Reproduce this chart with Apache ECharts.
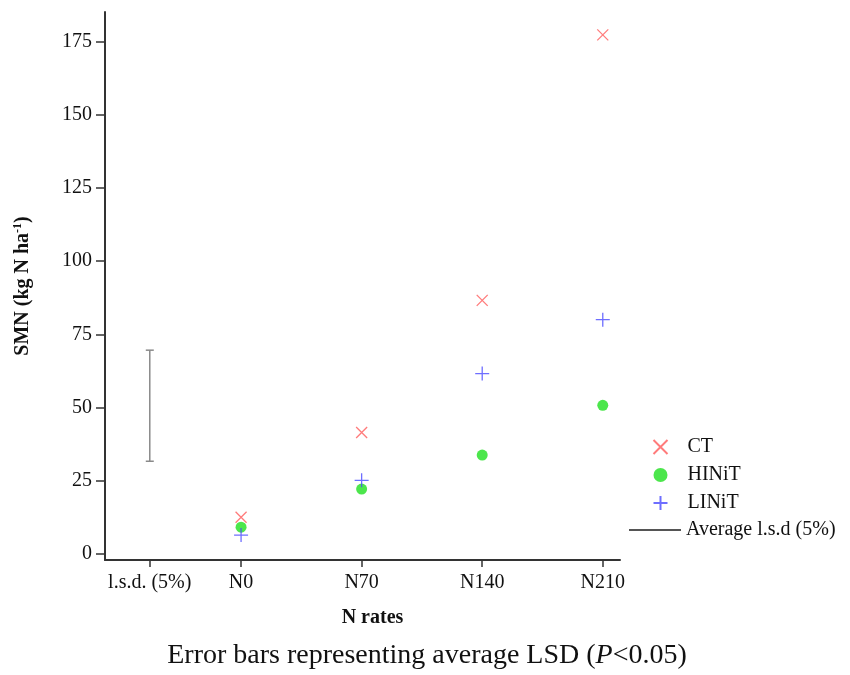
<!DOCTYPE html>
<html>
<head>
<meta charset="utf-8">
<script src="https://cdn.jsdelivr.net/npm/echarts@6/dist/echarts.min.js"></script>
<style>
  html, body { margin: 0; padding: 0; background: #fff; }
  #chart { width: 850px; height: 675px; }
</style>
</head>
<body>
<div id="chart"></div>
<script>
// N rates (x) and SMN values
var nRates = [0, 70, 140, 210];
var rateLabels = ['N0', 'N70', 'N140', 'N210'];
var ctVals = [12.6, 41.5, 86.6, 177.2];
var hinitVals = [9.2, 22.2, 33.8, 50.8];
var linitVals = [6.5, 25.2, 61.6, 80.0];
// average l.s.d. bar, drawn left of N0
var lsdLabel = 'l.s.d. (5%)';
var lsdPos = -53;
var lsdLow = 31.7;
var lsdHigh = 69.6;
var yTicks = [0, 25, 50, 75, 100, 125, 150, 175];

var serif = 'Liberation Serif';
var axisCol = '#333';

function pairs(xs, ys) {
    var out = [];
    for (var i = 0; i < xs.length; i++) out.push([xs[i], ys[i]]);
    return out;
}

var chart = echarts.init(document.getElementById('chart'));

var xTickVals = [lsdPos].concat(nRates);
var xTickNames = [lsdLabel].concat(rateLabels);

var option = {
    animation: false,
    grid: { left: 105, right: 230, top: 12, bottom: 115, containLabel: false },
    legend: [{
        orient: 'vertical',
        left: 646, top: 432,
        itemWidth: 14, itemHeight: 14, itemGap: 8,
        textStyle: { fontFamily: serif, fontSize: 20, color: '#111', padding: [0, 0, 0, 15] },
        data: ['CT', 'HINiT', 'LINiT']
    }, {
        left: 624, top: 515,
        itemWidth: 52, itemHeight: 2,
        textStyle: { fontFamily: serif, fontSize: 20, color: '#111' },
        data: [{ name: 'Average l.s.d (5%)', icon: 'rect', itemStyle: { color: '#555' } }]
    }],
    xAxis: {
        type: 'value',
        min: -79, max: 220,
        name: 'N rates',
        nameLocation: 'middle',
        nameGap: 48,
        nameTextStyle: { fontFamily: serif, fontSize: 20, fontWeight: 'bold', color: '#111', padding: [0, 0, 0, 20] },
        axisLine: { onZero: false, lineStyle: { color: axisCol, width: 2 } },
        axisTick: { show: true, length: 7, lineStyle: { color: axisCol, width: 1.5 }, customValues: xTickVals },
        axisLabel: {
            fontFamily: serif, fontSize: 20, color: '#111', margin: 13,
            customValues: xTickVals,
            formatter: function (v) {
                var i = xTickVals.indexOf(v);
                return i >= 0 ? xTickNames[i] : '';
            }
        },
        splitLine: { show: false }
    },
    yAxis: {
        type: 'value',
        min: -2, max: 185,
        name: '{a|SMN (kg N ha}{s|-1}{a|)}',
        nameLocation: 'middle',
        nameGap: 71,
        nameTextStyle: {
            rich: {
                a: { fontFamily: serif, fontSize: 20, fontWeight: 'bold', color: '#111', lineHeight: 22 },
                s: { fontFamily: serif, fontSize: 12, fontWeight: 'bold', color: '#111', verticalAlign: 'top', lineHeight: 12 }
            }
        },
        axisLine: { show: true, onZero: false, lineStyle: { color: axisCol, width: 2 } },
        axisTick: { show: true, length: 9, lineStyle: { color: axisCol, width: 1.5 }, customValues: yTicks },
        axisLabel: { fontFamily: serif, fontSize: 20, color: '#111', margin: 13, customValues: yTicks },
        splitLine: { show: false }
    },
    series: [{
        name: 'CT',
        type: 'scatter',
        symbol: 'path://M0,0 L10,10 M10,0 L0,10',
        symbolSize: 11,
        itemStyle: { color: 'none', borderColor: '#ff5a5a', borderWidth: 1.3 },
        data: pairs(nRates, ctVals)
    }, {
        name: 'HINiT',
        type: 'scatter',
        symbol: 'circle',
        symbolSize: 11,
        itemStyle: { color: '#1fe01f' },
        data: pairs(nRates, hinitVals)
    }, {
        name: 'LINiT',
        type: 'scatter',
        symbol: 'path://M5,0 L5,10 M0,5 L10,5',
        symbolSize: 14,
        itemStyle: { color: 'none', borderColor: '#4a4aff', borderWidth: 1.3 },
        data: pairs(nRates, linitVals)
    }, {
        name: 'Average l.s.d (5%)',
        type: 'custom',
        itemStyle: { color: '#555' },
        encode: { x: 0, y: [1, 2] },
        data: [[lsdPos, lsdLow, lsdHigh]],
        renderItem: function (params, api) {
            var lo = api.coord([api.value(0), api.value(1)]);
            var hi = api.coord([api.value(0), api.value(2)]);
            var cap = 4;
            var st = { stroke: '#8a8a8a', lineWidth: 1.5 };
            return {
                type: 'group',
                children: [
                    { type: 'line', shape: { x1: lo[0], y1: lo[1], x2: hi[0], y2: hi[1] }, style: st },
                    { type: 'line', shape: { x1: lo[0] - cap, y1: lo[1], x2: lo[0] + cap, y2: lo[1] }, style: st },
                    { type: 'line', shape: { x1: hi[0] - cap, y1: hi[1], x2: hi[0] + cap, y2: hi[1] }, style: st }
                ]
            };
        }
    }],
    graphic: [{
        type: 'text',
        x: 427, y: 656,
        style: {
            text: '{n|Error bars representing average LSD (}{i|P}{n|<0.05)}',
            align: 'center',
            verticalAlign: 'middle',
            rich: {
                n: { fontFamily: serif, fontSize: 28, fill: '#111' },
                i: { fontFamily: serif, fontSize: 28, fontStyle: 'italic', fill: '#111' }
            }
        }
    }]
};

chart.setOption(option);
</script>
</body>
</html>
